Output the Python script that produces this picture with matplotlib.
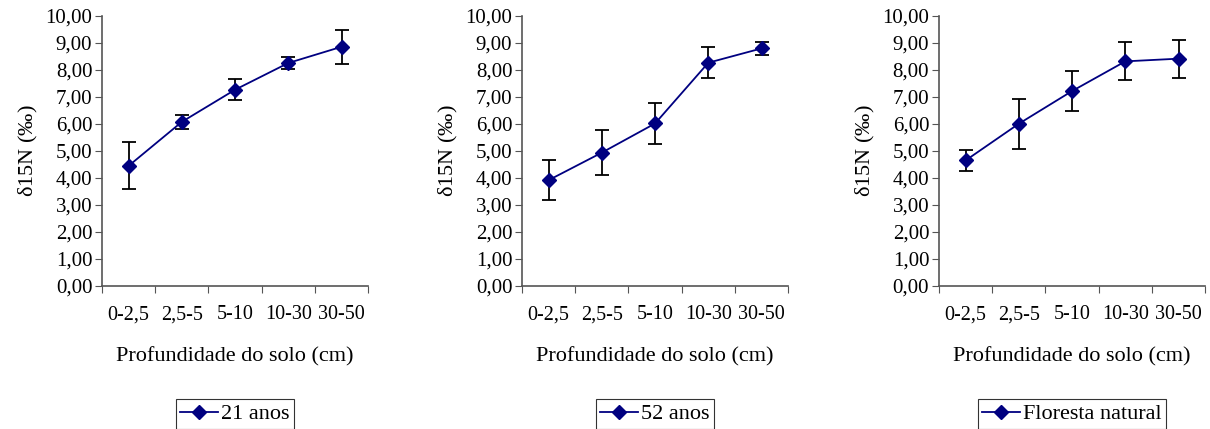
import matplotlib.pyplot as plt
import numpy as np

plt.rcParams['font.family'] = ['Liberation Serif', 'DejaVu Serif']
plt.rcParams['mathtext.fontset'] = 'custom'
plt.rcParams['mathtext.rm'] = 'Liberation Serif'
plt.rcParams['mathtext.it'] = 'Liberation Serif:italic'

depths = ['0-2,5', '2,5-5', '5-10', '10-30', '30-50']
series_names = ['21 anos', '52 anos', 'Floresta natural']

d15n_21 = [4.45, 6.08, 7.27, 8.26, 8.86]
err_21 = [0.87, 0.27, 0.38, 0.24, 0.63]

d15n_52 = [3.92, 4.94, 6.02, 8.27, 8.80]
err_52 = [0.75, 0.83, 0.75, 0.57, 0.24]

d15n_nat = [4.65, 6.01, 7.22, 8.32, 8.42]
err_nat = [0.39, 0.93, 0.75, 0.70, 0.70]

values = [d15n_21, d15n_52, d15n_nat]
errors = [err_21, err_52, err_nat]

fig = plt.figure(figsize=(12.1, 4.29), dpi=100)
lefts = [0.0843, 0.4314, 0.776]
width = 0.220
bottom, top = 0.3333, 0.9627

x = np.arange(len(depths))
for i in range(3):
    ax = fig.add_axes([lefts[i], bottom, width, top - bottom])
    ax.errorbar(x, values[i], yerr=errors[i], fmt='none', ecolor='black',
                elinewidth=1.3, capsize=5, capthick=1.3, zorder=2)
    ax.plot(x, values[i], color='#000080', marker='D', markersize=7,
            linewidth=1.3, label=series_names[i], zorder=3)

    ax.set_xlim(-0.5, len(depths) - 0.5)
    ax.set_ylim(0, 10)
    ax.set_yticks(np.arange(0, 11, 1))
    ax.set_yticklabels(['%d,00' % v for v in range(11)])
    ax.set_xticks(np.arange(-0.5, len(depths), 1))
    ax.set_xticklabels([])
    ax.set_xticks(x, minor=True)
    ax.set_xticklabels(depths, minor=True)
    ax.tick_params(axis='x', which='minor', length=0, pad=14, labelsize=14.5)
    ax.tick_params(axis='x', which='major', length=5, direction='out', color='#555555')
    ax.tick_params(axis='y', length=5, direction='out', labelsize=15, color='#555555', pad=2)

    for s in ['top', 'right']:
        ax.spines[s].set_visible(False)
    for s in ['left', 'bottom']:
        ax.spines[s].set_color('#555555')
        ax.spines[s].set_linewidth(1.2)

    ax.set_ylabel(r'δ15N $\mathit{(‰)}$', fontsize=16, labelpad=4)
    ax.set_xlabel('Profundidade do solo (cm)', fontsize=16, labelpad=16)

    leg = ax.legend(loc='upper center', bbox_to_anchor=(0.5, -0.42), fontsize=16,
                    frameon=True, fancybox=False, edgecolor='black', borderaxespad=0,
                    handlelength=1.7, handletextpad=0.15, borderpad=0.2)
    leg.get_frame().set_linewidth(0.8)

fig.savefig('out.png', dpi=100)
